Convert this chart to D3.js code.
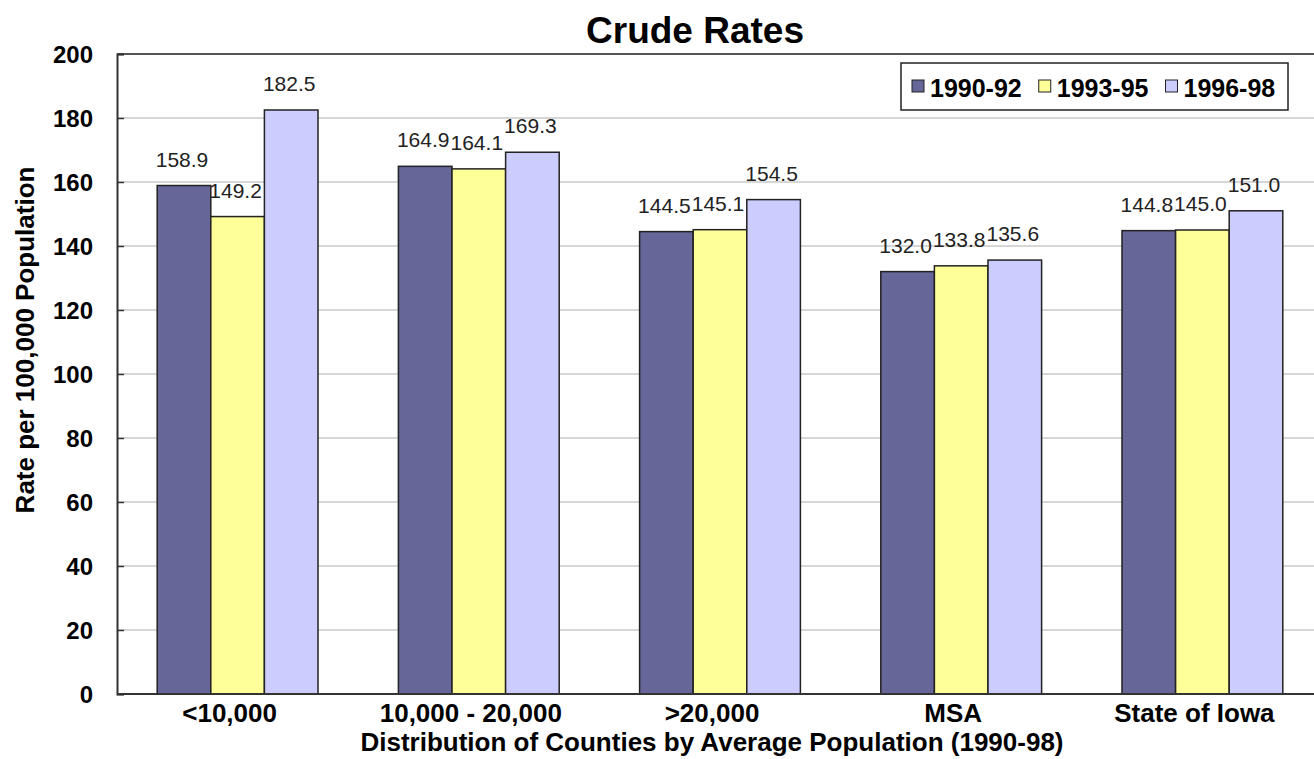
<!DOCTYPE html>
<html>
<head>
<meta charset="UTF-8">
<style>
  body { margin: 0; background: #fff; }
  svg { display: block; }
  .narrow { font-family: "Liberation Sans Narrow", "Arial Narrow", "Liberation Sans", Arial, sans-serif; font-weight: bold; }
  .bold { font-family: "Liberation Sans", Arial, sans-serif; font-weight: bold; }
</style>
</head>
<body>
<svg id="chart" width="1314" height="759"></svg>
<script src="https://cdn.jsdelivr.net/npm/d3@7"></script>
<script>
const categories = ["<10,000", "10,000 - 20,000", ">20,000", "MSA", "State of Iowa"];
const seriesNames = ["1990-92", "1993-95", "1996-98"];
const rates1990 = [158.9, 164.9, 144.5, 132.0, 144.8];
const rates1993 = [149.2, 164.1, 145.1, 133.8, 145.0];
const rates1996 = [182.5, 169.3, 154.5, 135.6, 151.0];
const yTicks = [0, 20, 40, 60, 80, 100, 120, 140, 160, 180, 200];
const colors = ["#666699", "#ffff99", "#ccccff"];

const series = [rates1990, rates1993, rates1996];

const svg = d3.select("#chart");
const m = { left: 117, top: 54, right: 1323, bottom: 694 };

const x = d3.scaleBand().domain(categories).range([m.left, m.right]);
const xs = d3.scaleBand().domain(seriesNames).range([0, x.bandwidth()]).paddingOuter(0.75);
const y = d3.scaleLinear().domain([0, 200]).range([m.bottom, m.top]);

// gridlines
svg.append("g").selectAll("line").data(yTicks.filter(t => t > 0 && t < 200)).join("line")
  .attr("x1", m.left).attr("x2", m.right)
  .attr("y1", d => y(d)).attr("y2", d => y(d))
  .attr("stroke", "#c8c8c8").attr("stroke-width", 1.5);

// top border
svg.append("line").attr("x1", m.left).attr("x2", m.right)
  .attr("y1", y(200)).attr("y2", y(200))
  .attr("stroke", "#555").attr("stroke-width", 2);

// bars
const groups = svg.append("g").selectAll("g").data(categories).join("g")
  .attr("transform", d => `translate(${x(d)},0)`);

groups.selectAll("rect")
  .data((c, i) => seriesNames.map((s, j) => ({ s, v: series[j][i], j })))
  .join("rect")
  .attr("x", d => xs(d.s))
  .attr("width", xs.bandwidth())
  .attr("y", d => y(d.v))
  .attr("height", d => y(0) - y(d.v))
  .attr("fill", d => colors[d.j])
  .attr("stroke", "#222")
  .attr("stroke-width", 1.5);

groups.selectAll("text")
  .data((c, i) => seriesNames.map((s, j) => ({ s, v: series[j][i], j })))
  .join("text")
  .attr("x", d => xs(d.s) + xs.bandwidth() / 2 - 2)
  .attr("y", d => y(d.v) - 19)
  .attr("text-anchor", "middle")
  .attr("font-family", "Liberation Sans, Arial, sans-serif")
  .attr("font-size", 21)
  .attr("fill", "#222")
  .text(d => d.v.toFixed(1));

// y axis
const yAxis = d3.axisLeft(y).tickValues(yTicks).tickSize(-7).tickPadding(24);
const ya = svg.append("g").attr("transform", `translate(${m.left},0)`).call(yAxis);
ya.select(".domain").attr("stroke", "#333").attr("stroke-width", 2);
ya.selectAll(".tick line").attr("stroke", "#333").attr("stroke-width", 1.5);
ya.selectAll(".tick text").attr("class", "narrow").attr("font-size", 24)
  .attr("fill", "#000").attr("dy", "0.35em");

// x axis line
svg.append("line").attr("x1", m.left).attr("x2", m.right)
  .attr("y1", y(0)).attr("y2", y(0))
  .attr("stroke", "#333").attr("stroke-width", 2);

// category labels
svg.append("g").selectAll("text").data(categories).join("text")
  .attr("class", "bold")
  .attr("x", d => x(d) + x.bandwidth() / 2 - 8)
  .attr("y", 722)
  .attr("text-anchor", "middle")
  .attr("font-size", 26)
  .text(d => d);

// titles
svg.append("text").attr("class", "bold")
  .attr("x", 695).attr("y", 43).attr("text-anchor", "middle")
  .attr("font-size", 37).text("Crude Rates");

svg.append("text").attr("class", "bold")
  .attr("x", 712).attr("y", 751).attr("text-anchor", "middle")
  .attr("font-size", 26).text("Distribution of Counties by Average Population (1990-98)");

svg.append("text").attr("class", "bold")
  .attr("transform", "translate(34,340) rotate(-90)")
  .attr("text-anchor", "middle")
  .attr("font-size", 26).text("Rate per 100,000 Population");

// legend
const lg = svg.append("g").attr("transform", "translate(901,63)");
lg.append("rect").attr("width", 387).attr("height", 47)
  .attr("fill", "#fff").attr("stroke", "#222").attr("stroke-width", 1.5);
const items = lg.selectAll("g").data(seriesNames).join("g");
items.append("rect").attr("y", 17).attr("width", 12).attr("height", 12)
  .attr("fill", (d, i) => colors[i]).attr("stroke", "#222").attr("stroke-width", 1);
items.append("text").attr("class", "narrow")
  .attr("x", 18).attr("y", 34).attr("font-size", 25)
  .text(d => d);
// place legend items one after another
let lx = 11;
items.each(function () {
  const g = d3.select(this);
  g.attr("transform", `translate(${lx},0)`);
  lx += 18 + g.select("text").node().getComputedTextLength() + 17;
});
</script>
</body>
</html>
